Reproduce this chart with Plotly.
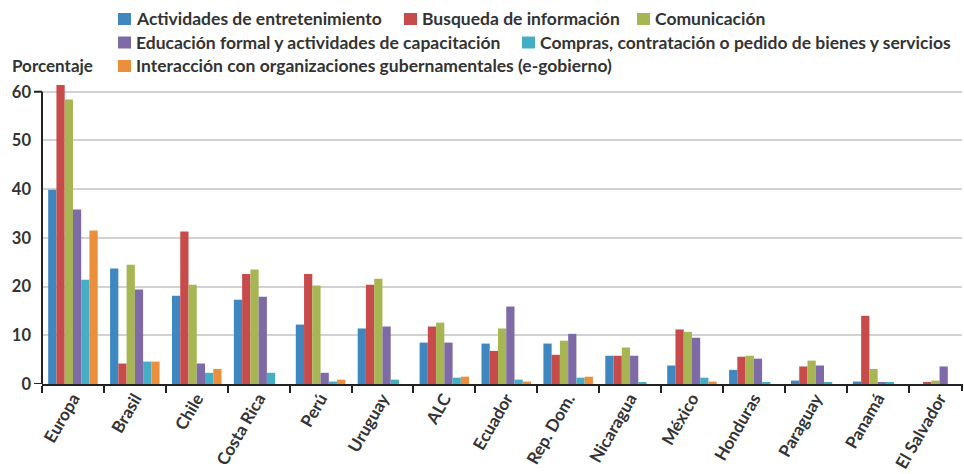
import plotly.graph_objects as go

# Share of internet users by type of online activity, by country / region
countries = ["Europa", "Brasil", "Chile", "Costa Rica", "Perú", "Uruguay", "ALC",
             "Ecuador", "Rep. Dom.", "Nicaragua", "México", "Honduras",
             "Paraguay", "Panamá", "El Salvador"]

series_names = [
    "Actividades de entretenimiento",
    "Busqueda de información",
    "Comunicación",
    "Educación formal y actividades de capacitación",
    "Compras, contratación o pedido de bienes y servicios",
    "Interacción con organizaciones gubernamentales (e-gobierno)",
]

entretenimiento = [39.9, 23.7, 18.1, 17.3, 12.2, 11.4, 8.5, 8.3, 8.3, 5.8, 3.8, 2.9, 0.7, 0.5, 0.0]
busqueda = [61.4, 4.2, 31.3, 22.6, 22.6, 20.4, 11.8, 6.8, 6.0, 5.8, 11.2, 5.6, 3.6, 14.0, 0.3]
comunicacion = [58.4, 24.5, 20.4, 23.5, 20.2, 21.6, 12.6, 11.4, 8.9, 7.5, 10.7, 5.8, 4.8, 3.1, 0.7]
educacion = [35.8, 19.4, 4.2, 17.9, 2.3, 11.8, 8.5, 15.9, 10.3, 5.8, 9.5, 5.2, 3.8, 0.3, 3.6]
compras = [21.4, 4.6, 2.3, 2.3, 0.5, 0.9, 1.3, 0.9, 1.3, 0.3, 1.3, 0.3, 0.3, 0.3, 0.0]
egobierno = [31.5, 4.6, 3.1, 0.0, 0.9, 0.0, 1.5, 0.5, 1.5, 0.0, 0.5, 0.0, 0.0, 0.0, 0.0]

y_ticks = [0, 10, 20, 30, 40, 50, 60]
y_title = "Porcentaje"

series_values = [entretenimiento, busqueda, comunicacion, educacion, compras, egobierno]
colors = ["#3E87C0", "#C84B4B", "#A7B552", "#7D6AA6", "#46AEC4", "#EB8F3C"]

FONT = "Lato"
TEXT = "#333333"
W, H = 964, 474
ML, MR, MT, MB = 42, 2, 82, 90
PW, PH = W - ML - MR, H - MT - MB


def px_x(px):
    return (px - ML) / PW


def px_y(py):
    return (H - MB - py) / PH


fig = go.Figure()
for name, vals, col in zip(series_names, series_values, colors):
    fig.add_trace(go.Bar(x=countries, y=vals, name=name, marker_color=col,
                         marker_line_width=0, showlegend=False))

shapes = []
annotations = []

# Legend laid out in three rows
legend_rows = [
    [(0, 118), (1, 404), (2, 637)],
    [(3, 118), (4, 522)],
    [(5, 118)],
]
row_centers = [19, 42.5, 66]
for row, cy in zip(legend_rows, row_centers):
    for idx, sx in row:
        shapes.append(dict(type="rect", xref="paper", yref="paper",
                           x0=px_x(sx), x1=px_x(sx + 13),
                           y0=px_y(cy + 6), y1=px_y(cy - 6),
                           fillcolor=colors[idx], line_width=0))
        annotations.append(dict(text=series_names[idx], xref="paper", yref="paper",
                                x=px_x(sx + 16), y=px_y(cy), xanchor="left",
                                yanchor="middle", showarrow=False,
                                font=dict(family=FONT, size=17.5, color=TEXT, weight="bold")))

annotations.append(dict(text=y_title, xref="paper", yref="paper",
                        x=px_x(10), y=px_y(66), xanchor="left", yanchor="middle",
                        showarrow=False,
                        font=dict(family=FONT, size=17, color=TEXT, weight="bold")))

# y axis line running from 0 to the top tick, with outer ticks at both ends
axis_col = "#222222"
shapes.append(dict(type="line", xref="paper", yref="y", x0=0, x1=0,
                   y0=0, y1=y_ticks[-1], line=dict(color=axis_col, width=2)))
for yv in (y_ticks[0], y_ticks[-1]):
    shapes.append(dict(type="line", xref="paper", yref="y", xsizemode="pixel",
                       xanchor=0, x0=-8, x1=0, y0=yv, y1=yv,
                       line=dict(color=axis_col, width=2)))
# outer tick at the right end of the x axis
shapes.append(dict(type="line", xref="paper", yref="paper", ysizemode="pixel",
                   yanchor=0, x0=1, x1=1, y0=0, y1=-7,
                   line=dict(color=axis_col, width=2)))

fig.update_layout(
    width=W, height=H,
    margin=dict(l=ML, r=MR, t=MT, b=MB, autoexpand=False),
    paper_bgcolor="white", plot_bgcolor="white",
    barmode="group", bargap=0.2, bargroupgap=0,
    showlegend=False,
    shapes=shapes, annotations=annotations,
    font=dict(family=FONT, color=TEXT, size=16, weight="bold"),
)
fig.update_xaxes(
    range=[-0.5, -0.5 + PW / 61.9], automargin=False,
    showline=True, linecolor=axis_col, linewidth=2,
    ticks="outside", tickson="boundaries", ticklen=7, tickwidth=2, tickcolor=axis_col,
    tickangle=-60, showgrid=False, ticklabelstandoff=-4,
    tickfont=dict(family=FONT, size=17, color=TEXT, weight="bold"),
)
fig.update_yaxes(
    range=[0, 62], tickvals=y_ticks, ticks="", showline=False, automargin=False,
    showgrid=True, gridcolor="#D2D2D2", gridwidth=2, zeroline=False,
    ticklabelstandoff=10,
    tickfont=dict(family=FONT, size=16.5, color=TEXT, weight="bold"),
)

fig.write_html("out.html")
